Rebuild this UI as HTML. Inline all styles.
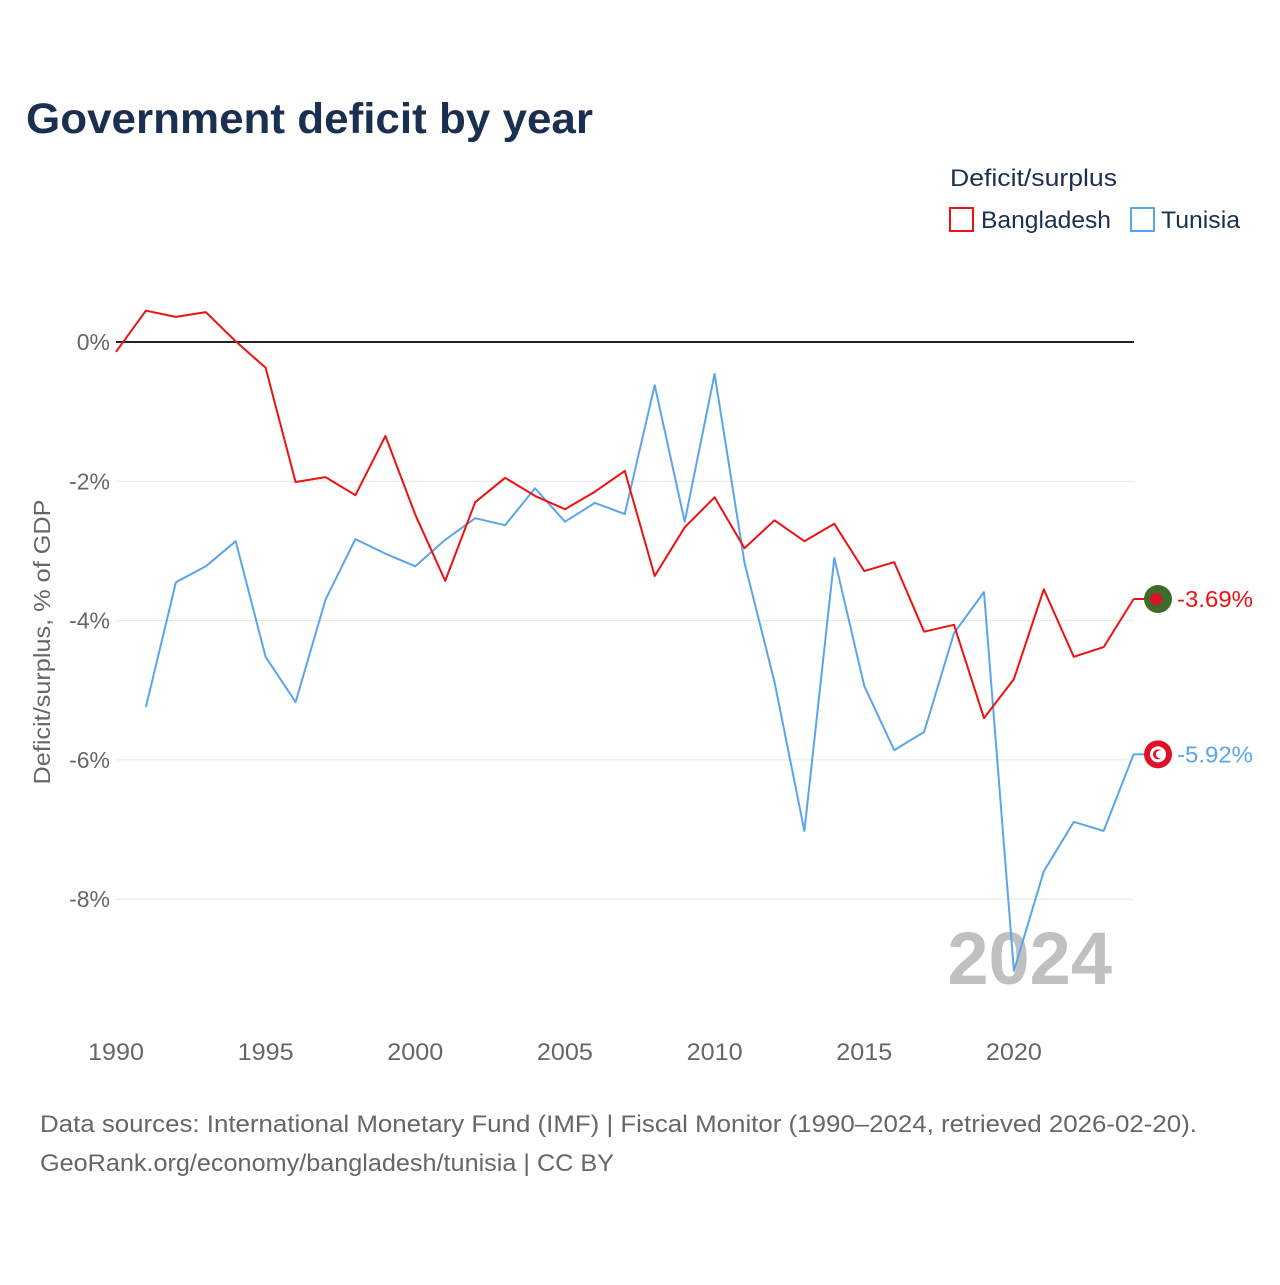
<!DOCTYPE html>
<html><head><meta charset="utf-8"><style>
body{margin:0;background:#fff;font-family:"Liberation Sans",sans-serif;}
svg text{font-family:"Liberation Sans",sans-serif;}
</style></head><body>
<svg width="1280" height="1280" xmlns="http://www.w3.org/2000/svg">
<text x="26" y="133" font-size="43" font-weight="bold" fill="#1b3050" textLength="567" lengthAdjust="spacingAndGlyphs">Government deficit by year</text>
<text x="950" y="186" font-size="24" fill="#1b3050" textLength="167" lengthAdjust="spacingAndGlyphs">Deficit/surplus</text>
<g><rect x="950" y="208" width="23" height="23" fill="none" stroke="#ee1111" stroke-width="2"/><text x="981" y="228" font-size="24" fill="#1b3050" textLength="130" lengthAdjust="spacingAndGlyphs">Bangladesh</text></g>
<g><rect x="1131" y="208" width="23" height="23" fill="none" stroke="#5aa5ea" stroke-width="2"/><text x="1161" y="228" font-size="24" fill="#1b3050" textLength="79" lengthAdjust="spacingAndGlyphs">Tunisia</text></g>
<g id="grid"></g>
<g id="yt"></g>
<g id="xt"></g>
<text transform="translate(50,642) rotate(-90)" text-anchor="middle" font-size="23" fill="#666" textLength="285" lengthAdjust="spacingAndGlyphs">Deficit/surplus, % of GDP</text>
<text x="1112" y="984" text-anchor="end" font-size="74" font-weight="bold" fill="#c0c0c0">2024</text>
<g id="series"></g>
<text x="40" y="1132" font-size="24" fill="#666" textLength="1157" lengthAdjust="spacingAndGlyphs">Data sources: International Monetary Fund (IMF) | Fiscal Monitor (1990–2024, retrieved 2026-02-20).</text>
<text x="40" y="1171" font-size="24" fill="#666" textLength="574" lengthAdjust="spacingAndGlyphs">GeoRank.org/economy/bangladesh/tunisia | CC BY</text>
</svg>
<script>
const years=[];for(let y=1990;y<=2024;y++)years.push(y);
const bangladesh=[-0.14,0.45,0.36,0.43,0.01,-0.37,-2.01,-1.94,-2.20,-1.35,-2.48,-3.43,-2.30,-1.95,-2.21,-2.40,-2.15,-1.85,-3.36,-2.66,-2.23,-2.96,-2.56,-2.86,-2.61,-3.29,-3.16,-4.16,-4.06,-5.40,-4.84,-3.55,-4.52,-4.38,-3.69];
const tunisia=[null,-5.24,-3.45,-3.22,-2.86,-4.52,-5.17,-3.70,-2.83,-3.04,-3.22,-2.84,-2.53,-2.63,-2.10,-2.58,-2.31,-2.47,-0.62,-2.58,-0.46,-3.17,-4.88,-7.02,-3.10,-4.94,-5.86,-5.60,-4.18,-3.59,-9.03,-7.60,-6.89,-7.02,-5.92];
const yTicks=[0,-2,-4,-6,-8];
const xTicks=[1990,1995,2000,2005,2010,2015,2020];
const NS="http://www.w3.org/2000/svg";
const xs=y=>116+(y-1990)*29.93;
const ys=v=>342-v*69.65;
function mk(t,a,p){const e=document.createElementNS(NS,t);for(const k in a)e.setAttribute(k,a[k]);p.appendChild(e);return e;}
const grid=document.getElementById('grid'),yt=document.getElementById('yt'),xt=document.getElementById('xt'),ser=document.getElementById('series');
yTicks.forEach(v=>{
 const l=mk('line',{x1:116,x2:1134,y1:ys(v),y2:ys(v),stroke:v===0?'#222':'#e6e6e6','stroke-width':v===0?2:1},grid);
 
 
 const t=mk('text',{x:110,y:ys(v)+8,'text-anchor':'end','font-size':23,fill:'#666'},yt);
 t.textContent=v+'%';
 
 
});
xTicks.forEach(y=>{
 const t=mk('text',{x:xs(y),y:1060,'text-anchor':'middle','font-size':24,fill:'#666',textLength:56,lengthAdjust:'spacingAndGlyphs'},xt);
 t.textContent=y;
 
 
});
function line(arr,col,name){
 let d='';arr.forEach((v,i)=>{if(v===null)return;d+=(d?'L':'M')+xs(years[i]).toFixed(1)+','+ys(v).toFixed(1);});
 const p=mk('path',{d:d,fill:'none',stroke:col,'stroke-width':2,'stroke-linejoin':'round'},ser);
 
 
 const last=arr[arr.length-1],ly=ys(last);
 const e=mk('line',{x1:xs(2024),x2:1146,y1:ly,y2:ly,stroke:col,'stroke-width':2},ser);
 
 
 const g=mk('g',{},ser);
 
 
 if(name==='bangladesh'){mk('circle',{cx:1158,cy:ly,r:14,fill:'#3f6b2a'},g);mk('circle',{cx:1156,cy:ly,r:6,fill:'#e0102a'},g);}
 else{mk('circle',{cx:1158,cy:ly,r:14,fill:'#e0102a'},g);mk('circle',{cx:1158,cy:ly,r:8,fill:'#fff'},g);mk('circle',{cx:1158,cy:ly,r:5,fill:'#e0102a'},g);mk('circle',{cx:1160,cy:ly,r:4,fill:'#fff'},g);}
 const t=mk('text',{x:1177,y:ly+8,'font-size':23,fill:col,textLength:76,lengthAdjust:'spacingAndGlyphs'},ser);
 t.textContent=last.toFixed(2)+'%';
 
 
}
line(tunisia,'#5aa5ea','tunisia');
line(bangladesh,'#ee1111','bangladesh');
</script>
</body></html>
